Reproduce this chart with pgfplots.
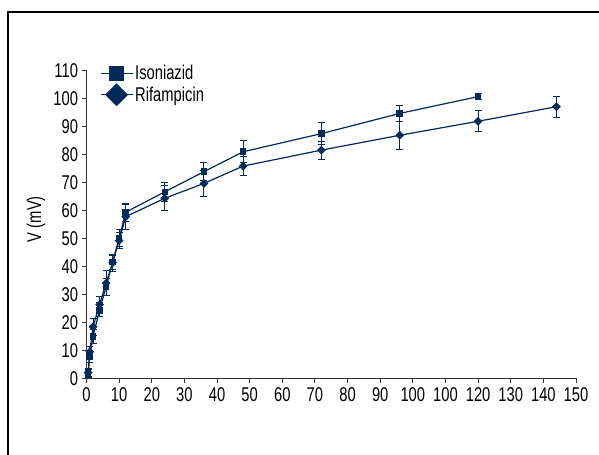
\documentclass[border=0pt]{standalone}
\usepackage{pgfplots}
\pgfplotsset{compat=1.18}
\usepackage{pgfplotstable}
\usepackage{fontspec}
\setmainfont{Liberation Sans}[FakeStretch=0.74]
\definecolor{navy}{RGB}{0,42,92}
\pgfplotstableread{
x y e
0.5 1.8 1.5
1 7.7 2
2 15 2.5
4 24.4 2.5
6 32.7 3
8 41.5 2.5
10 50 3
12 59.3 3.2
24 66.6 3.3
36 73.8 3.3
48 80.9 3.9
72 87.4 4
96 94.6 3
120 100.6 1
}\iso
\pgfplotstableread{
x y e
0.5 2 1.5
1 9.5 2
2 18.4 3
4 26.3 3
6 34 4.5
8 41.3 3
10 49.2 3
12 57.7 4.4
24 64.3 4.5
36 69.6 4.5
48 75.8 3.5
72 81.5 3.2
96 86.8 5
120 91.8 3.7
144 97 3.7
}\rif
\begin{document}
\begin{tikzpicture}
\useasboundingbox (0bp,0bp) rectangle (599bp,-455bp);
\draw[line width=1.3bp] (8bp,-460bp) -- (8bp,-12bp) -- (605bp,-12bp);
\begin{axis}[
  at={(86.5bp,-378.3bp)}, anchor=south west,
  scale only axis, width=489.5bp, height=308bp,
  xmin=0, xmax=150, ymin=0, ymax=110,
  axis x line*=bottom, axis y line*=left,
  xtick={0,10,...,150},
  xticklabels={0,10,20,30,40,50,60,70,80,90,100,100,120,130,140,150},
  ytick={0,10,...,110},
  tick align=outside, major tick length=5bp,
  tick style={line width=1bp, black!80},
  axis line style={line width=1.2bp, black!80},
  tick label style={font=\fontsize{20}{23}\selectfont},
  xticklabel style={yshift=-1bp},
  /pgf/number format/assume math mode=true,
  ylabel={V (mV)},
  ylabel style={font=\fontsize{20}{23}\selectfont, at={(axis description cs:-0.103,0.517)}, anchor=center},
  clip=false,
  legend image code/.code={\draw[mark repeat=2,mark phase=2] plot coordinates {(0bp,0bp) (16bp,0bp) (32bp,0bp)};},
  legend style={draw=none, fill=none, font=\fontsize{20}{23}\selectfont, at={(axis description cs:0.021,1.03)}, anchor=north west, row sep=1bp},
  legend cell align=left,
]
\addplot[navy, line width=1.2bp, mark=square*, mark size=2.7bp, mark options={solid, fill=navy}, forget plot,
  error bars/.cd, y dir=both, y explicit,
  error bar style={line width=1bp, navy},
  error mark options={rotate=90, line width=1bp, mark size=3.5bp, navy}]
  table[x=x, y=y, y error=e] {\iso};
\addplot[navy, line width=1.2bp, mark=square*, mark size=2.5bp, mark options={solid, fill=navy, rotate=45}, forget plot,
  error bars/.cd, y dir=both, y explicit,
  error bar style={line width=1bp, navy},
  error mark options={rotate=90, line width=1bp, mark size=3.5bp, navy}]
  table[x=x, y=y, y error=e] {\rif};
\addlegendimage{navy, line width=1.2bp, mark=square*, mark size=7bp, mark options={solid, fill=navy}}
\addlegendentry{Isoniazid}
\addlegendimage{navy, line width=1.2bp, mark=square*, mark size=7.5bp, mark options={solid, fill=navy, rotate=45}}
\addlegendentry{Rifampicin}
\end{axis}
\end{tikzpicture}
\end{document}
